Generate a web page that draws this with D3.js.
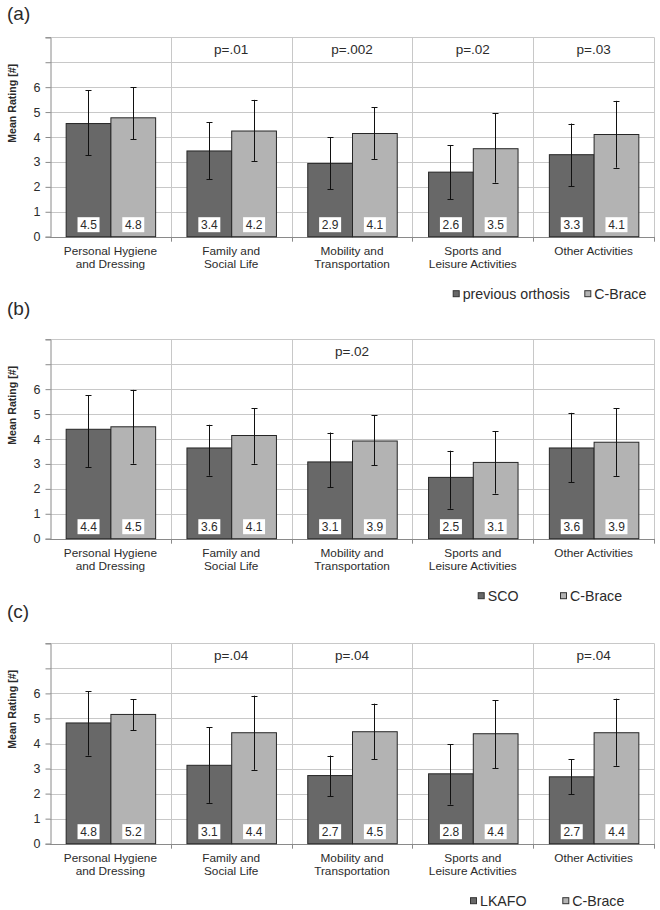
<!DOCTYPE html>
<html>
<head>
<meta charset="utf-8">
<script src="https://cdn.jsdelivr.net/npm/d3@7"></script>
<style>
  html, body { margin: 0; padding: 0; background: #fff; }
  svg { display: block; }
  text { font-family: "Liberation Sans", Arial, Helvetica, sans-serif; fill: #2b2b2b; }
</style>
</head>
<body>
<svg id="chart" width="660" height="910"></svg>
<script>
// ---------------- DATA ----------------
const categories = [
  "Personal Hygiene\nand Dressing",
  "Family and\nSocial Life",
  "Mobility and\nTransportation",
  "Sports and\nLeisure Activities",
  "Other Activities"
];
const panelLabels = ["(a)", "(b)", "(c)"];
const comparatorNames = ["previous orthosis", "SCO", "LKAFO"];
const cBraceName = "C-Brace";

const yTickValues = [0, 1, 2, 3, 4, 5, 6, 7, 8];
const yTickLabels = ["0", "1", "2", "3", "4", "5", "6"];
const yTitle = "Mean Rating [#]";

// (a) previous orthosis vs C-Brace
const a_compMean = [4.54, 3.44, 2.94, 2.59, 3.29];
const a_compLow  = [3.27, 2.30, 1.90, 1.50, 2.02];
const a_compHigh = [5.88, 4.59, 3.98, 3.68, 4.54];
const a_cbMean   = [4.77, 4.24, 4.14, 3.53, 4.10];
const a_cbLow    = [3.91, 3.04, 3.12, 2.17, 2.77];
const a_cbHigh   = [6.00, 5.49, 5.20, 4.96, 5.45];
const a_pValues  = ["", "p=.01", "p=.002", "p=.02", "p=.03"];

// (b) SCO vs C-Brace
const b_compMean = [4.39, 3.64, 3.08, 2.46, 3.64];
const b_compLow  = [2.88, 2.53, 2.06, 1.20, 2.26];
const b_compHigh = [5.76, 4.57, 4.26, 3.53, 5.05];
const b_cbMean   = [4.49, 4.14, 3.92, 3.06, 3.87];
const b_cbLow    = [3.01, 3.01, 2.95, 1.81, 2.52];
const b_cbHigh   = [5.97, 5.24, 4.96, 4.31, 5.24];
const b_pValues  = ["", "", "p=.02", "", ""];

// (c) LKAFO vs C-Brace
const c_compMean = [4.82, 3.13, 2.72, 2.79, 2.67];
const c_compLow  = [3.52, 1.63, 1.90, 1.56, 1.98];
const c_compHigh = [6.08, 4.64, 3.52, 3.98, 3.38];
const c_cbMean   = [5.16, 4.43, 4.47, 4.39, 4.43];
const c_cbLow    = [4.52, 2.95, 3.38, 3.02, 3.11];
const c_cbHigh   = [5.76, 5.91, 5.59, 5.72, 5.79];
const c_pValues  = ["", "p=.04", "p=.04", "", "p=.04"];

// ---------------- LAYOUT / STYLE ----------------
const COLORS = { comp: "#686868", cb: "#b3b3b3", barStroke: "#262626", grid: "#c8c8c8", axis: "#8a8a8a" };
const plotLeft = 50, plotRight = 654;
const panelLayout = [
  { top: 37.3, height: 199.4, labelY: 20, legendText: [462.7, 594.3] },
  { top: 339.3, height: 199.4, labelY: 314.5, legendText: [487.7, 570] },
  { top: 643.3, height: 200.4, labelY: 618, legendText: [480, 572.3] }
];

const panels = [
  { means: [a_compMean, a_cbMean], lows: [a_compLow, a_cbLow], highs: [a_compHigh, a_cbHigh], p: a_pValues },
  { means: [b_compMean, b_cbMean], lows: [b_compLow, b_cbLow], highs: [b_compHigh, b_cbHigh], p: b_pValues },
  { means: [c_compMean, c_cbMean], lows: [c_compLow, c_cbLow], highs: [c_compHigh, c_cbHigh], p: c_pValues }
].map((d, i) => Object.assign(d, { label: panelLabels[i], names: [comparatorNames[i], cBraceName] }, panelLayout[i]));

const svg = d3.select("#chart");
const x0 = d3.scaleBand().domain(d3.range(categories.length)).range([plotLeft, plotRight]).paddingInner(0).paddingOuter(0);
const x1 = d3.scaleBand().domain([0, 1]).range([0, x0.bandwidth()]).paddingInner(0).paddingOuter(0.35);
const seriesFill = [COLORS.comp, COLORS.cb];

panels.forEach((P) => {
  const g = svg.append("g");
  const y = d3.scaleLinear().domain([0, 8]).range([P.top + P.height, P.top]);
  const bottom = P.top + P.height;

  // panel letter
  g.append("text").attr("x", 7).attr("y", P.labelY).attr("font-size", 19).attr("fill", "#222").text(P.label);

  // horizontal gridlines
  g.selectAll(".hgrid").data(yTickValues.filter(v => v > 0)).join("line")
    .attr("x1", plotLeft).attr("x2", plotRight)
    .attr("y1", d => Math.round(y(d)) + 0.5).attr("y2", d => Math.round(y(d)) + 0.5)
    .attr("stroke", COLORS.grid).attr("stroke-width", 1);

  // vertical separators (category boundaries) + right border, with tick below axis
  const bounds = d3.range(1, categories.length).map(i => x0(i)).concat([plotRight]);
  g.selectAll(".vgrid").data(bounds).join("line")
    .attr("x1", d => Math.round(d) + 0.5).attr("x2", d => Math.round(d) + 0.5)
    .attr("y1", P.top).attr("y2", bottom)
    .attr("stroke", COLORS.grid);
  g.selectAll(".xtick").data(bounds).join("line")
    .attr("x1", d => Math.round(d) + 0.5).attr("x2", d => Math.round(d) + 0.5)
    .attr("y1", bottom).attr("y2", bottom + 5)
    .attr("stroke", COLORS.axis);

  // x axis line
  g.append("line").attr("x1", plotLeft).attr("x2", plotRight)
    .attr("y1", Math.round(bottom) + 0.5).attr("y2", Math.round(bottom) + 0.5)
    .attr("stroke", COLORS.axis);

  // y axis
  const yAxis = d3.axisLeft(y).tickValues(yTickValues)
    .tickFormat(d => yTickLabels[d] !== undefined ? yTickLabels[d] : "")
    .tickSize(5).tickPadding(5);
  const ya = g.append("g").attr("transform", `translate(${plotLeft + 0.5},0)`).call(yAxis);
  ya.select(".domain").attr("stroke", COLORS.axis);
  ya.selectAll(".tick line").attr("stroke", COLORS.axis);
  ya.selectAll(".tick text").attr("font-size", 12.5).attr("fill", "#2b2b2b")
    .attr("font-family", "'Liberation Sans', Arial, sans-serif");

  // y title
  g.append("text")
    .attr("transform", `translate(16,${P.top + 66}) rotate(-90)`)
    .attr("text-anchor", "middle").attr("font-size", 10.6).attr("font-weight", "bold")
    .text(yTitle);

  // bars
  const barData = [];
  categories.forEach((c, ci) => {
    [0, 1].forEach(si => {
      barData.push({ ci, si, mean: P.means[si][ci], low: P.lows[si][ci], high: P.highs[si][ci] });
    });
  });
  const bx = d => x0(d.ci) + x1(d.si);
  g.selectAll(".bar").data(barData).join("rect")
    .attr("x", d => bx(d) + 0.5).attr("width", x1.bandwidth())
    .attr("y", d => y(d.mean)).attr("height", d => bottom - y(d.mean))
    .attr("fill", d => seriesFill[d.si]).attr("stroke", COLORS.barStroke).attr("stroke-width", 1);

  // error bars
  const cx = d => Math.round(bx(d) + x1.bandwidth() / 2) + 0.5;
  g.selectAll(".err").data(barData).join("line")
    .attr("x1", cx).attr("x2", cx).attr("y1", d => y(d.high)).attr("y2", d => y(d.low))
    .attr("stroke", "#111").attr("stroke-width", 1);
  ["high", "low"].forEach(k => {
    g.selectAll(".cap-" + k).data(barData).join("line")
      .attr("x1", d => cx(d) - 3).attr("x2", d => cx(d) + 3)
      .attr("y1", d => Math.round(y(d[k])) + 0.5).attr("y2", d => Math.round(y(d[k])) + 0.5)
      .attr("stroke", "#111").attr("stroke-width", 1);
  });

  // value boxes
  const bw = 22, bh = 15;
  g.selectAll(".vbox").data(barData).join("rect")
    .attr("x", d => bx(d) + x1.bandwidth() / 2 - bw / 2 + 0.5).attr("y", bottom - 4.5 - bh)
    .attr("width", bw).attr("height", bh).attr("fill", "#fff");
  g.selectAll(".vtxt").data(barData).join("text")
    .attr("x", d => bx(d) + x1.bandwidth() / 2 + 0.5).attr("y", bottom - 4.5 - bh / 2 + 4.3)
    .attr("text-anchor", "middle").attr("font-size", 12)
    .text(d => d.mean.toFixed(1));

  // p values
  g.selectAll(".pval").data(P.p).join("text")
    .attr("x", (d, i) => x0(i) + x0.bandwidth() / 2).attr("y", y(7.5) + 4.5)
    .attr("text-anchor", "middle").attr("font-size", 13.5)
    .text(d => d);

  // category labels
  categories.forEach((c, ci) => {
    const lines = c.split("\n");
    const t = g.append("text").attr("text-anchor", "middle").attr("font-size", 11.8);
    lines.forEach((ln, li) => {
      t.append("tspan").attr("x", x0(ci) + x0.bandwidth() / 2)
        .attr("y", bottom + 18.3 + li * 12.8).text(ln);
    });
  });

  // legend
  const ly = bottom + 57.5;
  P.names.forEach((nm, si) => {
    const tx = P.legendText[si];
    g.append("rect").attr("x", tx - 9.5).attr("y", ly - 3.5).attr("width", 6).attr("height", 6)
      .attr("fill", seriesFill[si]).attr("stroke", "#333").attr("stroke-width", 1);
    g.append("text").attr("x", tx).attr("y", ly + 5).attr("font-size", 14.2).text(nm);
  });
});
</script>
</body>
</html>
